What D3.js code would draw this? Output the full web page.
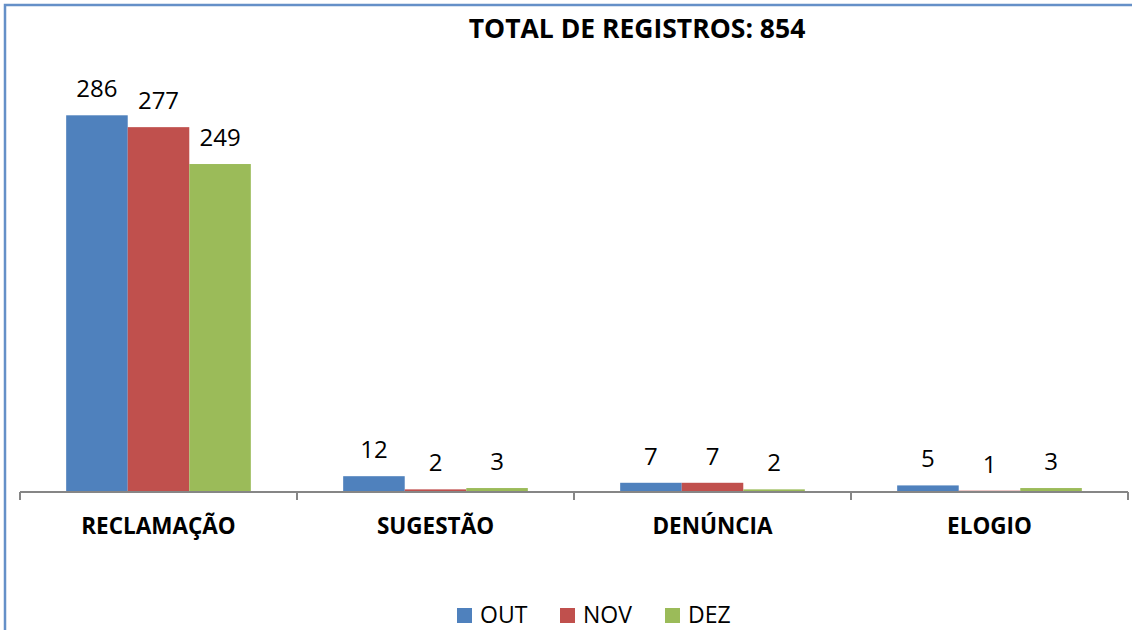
<!DOCTYPE html>
<html>
<head>
<meta charset="utf-8">
<script src="https://cdn.jsdelivr.net/npm/d3@7"></script>
<style>
  body { margin: 0; background: #fff; }
  svg { display: block; }
</style>
</head>
<body>
<svg width="1132" height="630"></svg>
<script>
var categories = ["RECLAMAÇÃO", "SUGESTÃO", "DENÚNCIA", "ELOGIO"];
var months = ["OUT", "NOV", "DEZ"];
var valuesOut = [286, 12, 7, 5];
var valuesNov = [277, 2, 7, 1];
var valuesDez = [249, 3, 2, 3];
var colors = ["#4F81BD", "#C0504D", "#9BBB59"];
var title = "TOTAL DE REGISTROS: 854";

var seriesValues = [valuesOut, valuesNov, valuesDez];

var svg = d3.select("svg"),
    width = +svg.attr("width"),
    height = +svg.attr("height");

var font = "'Open Sans', Lato, sans-serif";

// chart frame, right and bottom edges fall outside the picture
svg.append("rect")
    .attr("x", 5)
    .attr("y", 5)
    .attr("width", width + 20)
    .attr("height", height + 20)
    .attr("fill", "#fff")
    .attr("stroke", "#6590c8")
    .attr("stroke-width", 2.5);

var x0 = d3.scaleBand()
    .domain(categories)
    .range([20, 1128])
    .padding(0);

var x1 = d3.scaleBand()
    .domain(months)
    .range([0, x0.bandwidth()])
    .paddingInner(0)
    .paddingOuter(0.75);

var y = d3.scaleLinear()
    .domain([0, 350])
    .range([492, 31]);

var color = d3.scaleOrdinal().domain(months).range(colors);

svg.append("text")
    .attr("x", 637)
    .attr("y", 38)
    .attr("text-anchor", "middle")
    .attr("font-family", font)
    .attr("font-weight", "bold")
    .attr("font-size", 26.5)
    .text(title);

var rows = [];
categories.forEach(function(c, i) {
    months.forEach(function(m, j) {
        rows.push({category: c, month: m, value: seriesValues[j][i]});
    });
});

var g = svg.append("g");

g.selectAll("rect.bar")
    .data(rows)
    .enter().append("rect")
    .attr("class", "bar")
    .attr("x", function(d) { return x0(d.category) + x1(d.month); })
    .attr("y", function(d) { return y(d.value); })
    .attr("width", x1.bandwidth())
    .attr("height", function(d) { return y(0) - y(d.value); })
    .attr("fill", function(d) { return color(d.month); });

g.selectAll("text.val")
    .data(rows)
    .enter().append("text")
    .attr("class", "val")
    .attr("x", function(d) { return x0(d.category) + x1(d.month) + x1.bandwidth() / 2; })
    .attr("y", function(d) { return y(d.value) - 18; })
    .attr("text-anchor", "middle")
    .attr("font-family", font)
    .attr("font-size", 24)
    .attr("fill", "#000")
    .text(function(d) { return d.value; });

// category axis with tick marks between groups
var axis = svg.append("g");
axis.append("line")
    .attr("x1", x0.range()[0])
    .attr("x2", x0.range()[1])
    .attr("y1", y(0))
    .attr("y2", y(0))
    .attr("stroke", "#868686")
    .attr("stroke-width", 2);

var tickXs = categories.map(function(c) { return x0(c); }).concat([x0.range()[1]]);
axis.selectAll("line.tick")
    .data(tickXs)
    .enter().append("line")
    .attr("class", "tick")
    .attr("x1", function(d) { return d; })
    .attr("x2", function(d) { return d; })
    .attr("y1", y(0))
    .attr("y2", y(0) + 8)
    .attr("stroke", "#868686")
    .attr("stroke-width", 2);

axis.selectAll("text")
    .data(categories)
    .enter().append("text")
    .attr("x", function(d) { return x0(d) + x0.bandwidth() / 2; })
    .attr("y", 534)
    .attr("text-anchor", "middle")
    .attr("font-family", font)
    .attr("font-weight", "bold")
    .attr("font-size", 22.5)
    .text(function(d) { return d; });

// legend
var legendX = [457, 560, 665];
var legend = svg.append("g");
var item = legend.selectAll("g")
    .data(months)
    .enter().append("g")
    .attr("transform", function(d, i) { return "translate(" + legendX[i] + ",608)"; });

item.append("rect")
    .attr("width", 15)
    .attr("height", 15)
    .attr("fill", function(d) { return color(d); });

item.append("text")
    .attr("x", 23)
    .attr("y", 15)
    .attr("font-family", font)
    .attr("font-size", 23)
    .text(function(d) { return d; });
</script>
</body>
</html>
